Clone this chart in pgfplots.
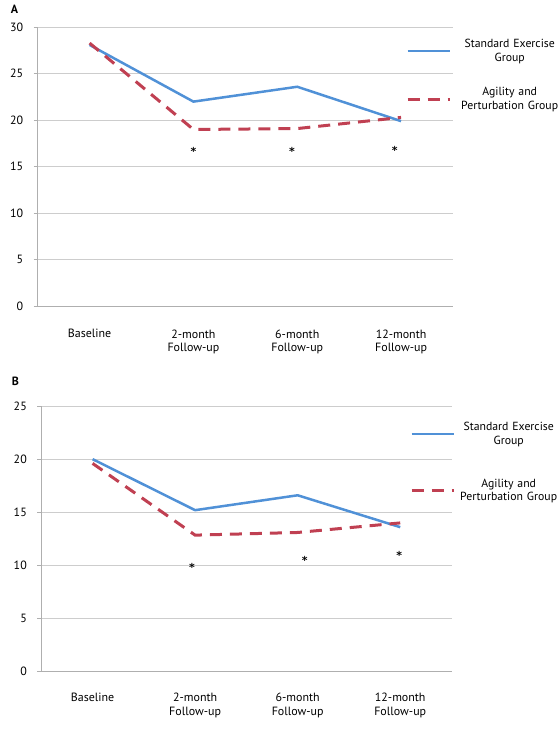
\documentclass[border=0pt]{standalone}
\usepackage{fontspec}
\setmainfont{PT Sans}
\newfontfamily\astfont{DejaVu Sans}
\usepackage{pgfplots}
\pgfplotsset{compat=1.18}

\definecolor{stdblue}{RGB}{80,145,215}
\definecolor{agred}{RGB}{192,64,82}
\definecolor{gridgray}{RGB}{205,205,205}
\definecolor{axgray}{RGB}{175,175,175}

\tikzset{astnode/.style={font=\astfont\bfseries\fontsize{11}{13}\selectfont, inner sep=0pt, yshift=-2.5bp}}

\pgfplotsset{
  panel/.style={
    scale only axis,
    xmin=-0.5, xmax=3.5, ymin=0,
    axis x line*=bottom, axis y line*=left,
    axis line style={draw=axgray, line width=0.9bp},
    ymajorgrids, grid style={draw=gridgray, line width=0.9bp},
    tick align=outside,
    xtick={0,1,2,3},
    xticklabels={Baseline,{2-month\\Follow-up},{6-month\\Follow-up},{12-month\\Follow-up}},
    major x tick style={draw=none},
    extra x ticks={-0.5,0.5,1.5,2.5,3.5},
    extra x tick labels={},
    extra x tick style={grid=none, major tick length=4bp, tick style={draw=axgray, line width=0.9bp}},
    ytick style={draw=axgray, line width=0.9bp},
    major tick length=4bp,
    /pgf/number format/assume math mode=true,
    tick label style={font=\fontsize{12}{14}\selectfont},
    yticklabel style={xshift=-7bp},
    legend cell align=left,
    legend style={draw=none, fill=none, inner sep=0pt,
      nodes={inner sep=0pt, text width=106bp, align=center, font=\fontsize{11.8}{14}\selectfont}},
    legend image code/.code={\draw[##1] (0bp,-7bp) -- (42bp,-7bp);},
    clip=false,
  },
  stdline/.style={stdblue, line width=2.5bp, no marks},
  agline/.style={agred, line width=3bp, dash pattern=on 12bp off 8bp, no marks},
}

\begin{document}
\begin{tikzpicture}
\useasboundingbox (0bp,0bp) rectangle (560bp,-735bp);

\node[font=\bfseries\fontsize{12}{14}\selectfont] at (14.5bp,-9bp) {A};
\node[font=\bfseries\fontsize{12}{14}\selectfont] at (15.5bp,-381bp) {B};

\begin{axis}[panel, at={(37.7bp,-306bp)}, anchor=south west,
  width=415.3bp, height=278.7bp, ymax=30, ytick={0,5,...,30},
  xticklabel style={align=center, yshift=-16bp},
  legend style={at={(rel axis cs:0.8868,0.8468)}, anchor=west, row sep=35.5bp, column sep=5.5bp}]
\addplot[stdline] coordinates {(0,28.1) (1,22.0) (2,23.6) (3,19.9)};
\addlegendentry{Standard Exercise\\Group}
\addplot[agline] coordinates {(0,28.3) (1,19.0) (2,19.1) (3,20.3)};
\addlegendentry{Agility and\\Perturbation Group}
\node[astnode] at (axis cs:1,16.9) {*};
\node[astnode] at (axis cs:1.95,16.9) {*};
\node[astnode] at (axis cs:2.94,17.0) {*};
\end{axis}

\begin{axis}[panel, at={(41.3bp,-671.7bp)}, anchor=south west,
  width=410.2bp, height=265.7bp, ymax=25, ytick={0,5,...,25},
  xticklabel style={align=center, yshift=-14bp},
  legend style={at={(rel axis cs:0.8988,0.808)}, anchor=west, row sep=43.5bp, column sep=0.5bp}]
\addplot[stdline] coordinates {(0,20.0) (1,15.2) (2,16.6) (3,13.6)};
\addlegendentry{Standard Exercise\\Group}
\addplot[agline] coordinates {(0,19.6) (1,12.85) (2,13.1) (3,14.0)};
\addlegendentry{Agility and\\Perturbation Group}
\node[astnode] at (axis cs:0.97,10.05) {*};
\node[astnode] at (axis cs:2.07,10.7) {*};
\node[astnode] at (axis cs:2.99,11.2) {*};
\end{axis}
\end{tikzpicture}
\end{document}
